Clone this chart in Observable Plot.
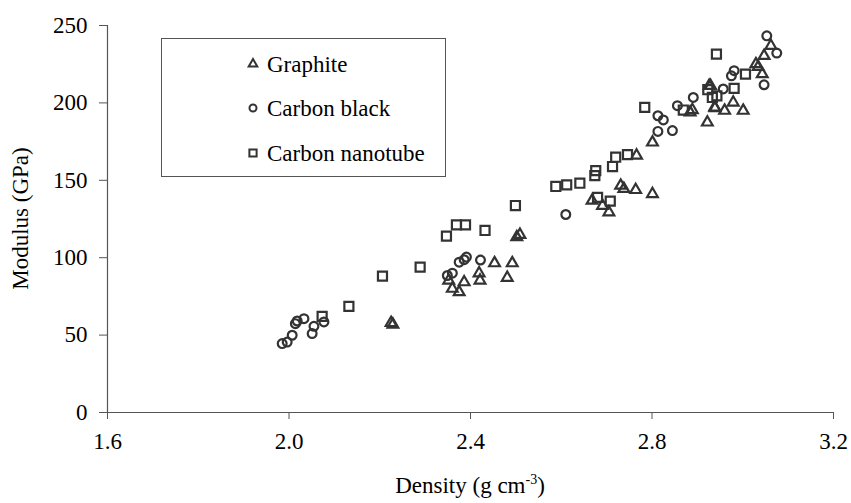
<!DOCTYPE html>
<html><head><meta charset="utf-8">
<script src="https://cdn.jsdelivr.net/npm/d3@7"></script>
<script src="https://cdn.jsdelivr.net/npm/@observablehq/plot@0.6"></script>
<style>
body{margin:0;background:#fff;}
#chart{position:relative;width:851px;height:503px;}
</style></head><body><div id="chart"></div>
<script>
// Graphite (triangles)
const graphiteDensity = [2.225,2.229,2.352,2.360,2.375,2.386,2.419,2.421,2.453,2.481,2.492,2.502,2.509,2.668,2.691,2.705,2.731,2.738,2.764,2.766,2.801,2.801,2.884,2.889,2.922,2.926,2.929,2.938,2.939,2.960,2.979,3.001,3.029,3.034,3.043,3.047,3.062];
const graphiteModulus = [57.9,56.9,85.3,80.0,77.8,84.2,90.0,85.3,96.5,87.1,96.5,113.3,114.8,136.9,133.6,129.4,146.6,144.5,143.8,166.0,141.2,174.5,193.9,195.4,187.4,211.1,211.0,197.1,196.7,195.0,200.3,195.0,225.1,223.3,218.6,230.4,236.9];
// Carbon black (circles)
const blackDensity = [1.985,1.996,2.007,2.014,2.018,2.033,2.051,2.055,2.077,2.349,2.360,2.375,2.386,2.391,2.422,2.610,2.813,2.825,2.813,2.845,2.856,2.891,2.957,2.975,2.981,3.047,3.053,3.075];
const blackModulus = [44.5,45.5,49.9,57.4,59.1,60.6,51.0,55.7,58.5,88.5,90.0,97.1,98.7,100.4,98.5,127.9,191.7,189.0,181.6,182.1,198.2,203.5,209.0,217.5,220.8,211.7,243.3,232.2];
// Carbon nanotube (squares)
const tubeDensity = [2.073,2.132,2.206,2.289,2.347,2.369,2.389,2.432,2.499,2.588,2.612,2.641,2.674,2.676,2.680,2.708,2.713,2.720,2.746,2.784,2.869,2.923,2.933,2.942,2.943,2.981,3.006];
const tubeModulus = [62.1,68.6,88.1,93.9,113.9,121.2,121.2,117.6,133.7,146.0,147.0,148.1,153.0,156.3,139.0,136.5,158.9,164.9,166.6,197.1,195.4,208.5,203.5,231.5,204.6,209.4,218.6];

const seriesNames = ["Graphite", "Carbon black", "Carbon nanotube"];
const seriesSymbols = ["triangle", "circle", "square"];
const xTicks = [1.6, 2.0, 2.4, 2.8, 3.2];
const yTicks = [0, 50, 100, 150, 200, 250];

const toRows = (xs, ys) => xs.map((d, i) => ({density: d, modulus: ys[i]}));
const series = [toRows(graphiteDensity, graphiteModulus), toRows(blackDensity, blackModulus), toRows(tubeDensity, tubeModulus)];
const symbolR = {triangle: 4.0, circle: 4.4, square: 5.1};
const ink = "#333";
const axisInk = "#555";

const plot = Plot.plot({
  width: 851, height: 503,
  marginLeft: 107, marginRight: 18, marginTop: 25, marginBottom: 91,
  style: {fontFamily: "'Liberation Serif', 'Times New Roman', serif", fontSize: "23px", color: "#000", background: "#fff"},
  x: {domain: [1.6, 3.2]},
  y: {domain: [0, 250]},
  marks: [
    Plot.axisX({ticks: xTicks, tickFormat: d => d.toFixed(1), tickSize: 7, tickPadding: 13, stroke: axisInk, label: null}),
    Plot.axisY({ticks: yTicks, tickSize: 8, tickPadding: 12, stroke: axisInk, label: null}),
    Plot.ruleY([0], {stroke: axisInk, strokeWidth: 1.2}),
    Plot.ruleX([1.6], {stroke: axisInk, strokeWidth: 1.2}),
    ...series.map((rows, i) => Plot.dot(rows, {
      x: "density", y: "modulus", symbol: () => seriesSymbols[i], r: symbolR[seriesSymbols[i]],
      stroke: ink, strokeWidth: 2.2, fill: "none"
    }))
  ]
});

const svg = d3.select(plot);
const xs = plot.scale("x"), ys = plot.scale("y");
const [x0, x1] = xs.range, [yb, yt] = ys.range;

// Axis titles
const xt = svg.append("text")
  .attr("x", (x0 + x1) / 2).attr("y", 493)
  .attr("text-anchor", "middle").attr("fill", "#000");
xt.append("tspan").text("Density (g cm");
xt.append("tspan").attr("font-size", "14px").attr("dy", "-9").text("-3");
xt.append("tspan").attr("dy", "9").text(")");

svg.append("text")
  .attr("transform", `translate(28,${(yb + yt) / 2}) rotate(-90)`)
  .attr("text-anchor", "middle").attr("fill", "#000")
  .text("Modulus (GPa)");

// Legend
const lg = svg.append("g").attr("text-anchor", "start");
lg.append("rect").attr("x", 161.5).attr("y", 38.5).attr("width", 284).attr("height", 138)
  .attr("fill", "#fff").attr("stroke", axisInk).attr("stroke-width", 1);
const rowY = [64, 108, 153];
const d3Sym = {triangle: d3.symbolTriangle, circle: d3.symbolCircle, square: d3.symbolSquare};
seriesNames.forEach((name, i) => {
  const s = seriesSymbols[i];
  lg.append("path")
    .attr("d", d3.symbol(d3Sym[s], Math.PI * (symbolR[s] * 0.8) ** 2)())
    .attr("transform", `translate(253,${rowY[i]})`)
    .attr("fill", "none").attr("stroke", ink).attr("stroke-width", 2);
  lg.append("text").attr("x", 267).attr("y", rowY[i]).attr("dy", "0.35em")
    .attr("text-anchor", "start").attr("fill", "#000").text(name);
});

document.getElementById("chart").appendChild(plot);
</script>
</body></html>
